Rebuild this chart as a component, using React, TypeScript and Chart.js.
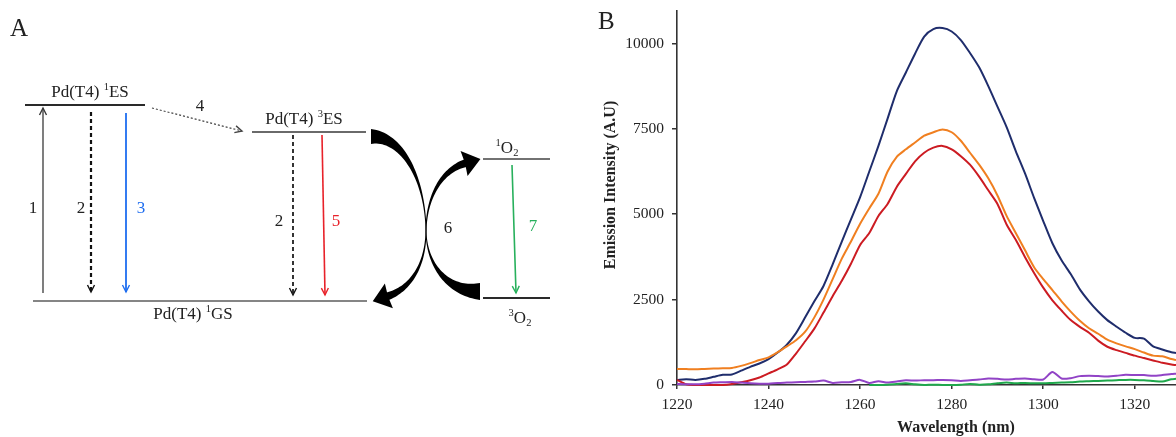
import React, { useEffect, useRef } from "react";
import { Chart, registerables } from "chart.js";

Chart.register(...registerables);

// ---------------- Panel B data (emission spectra) ----------------
const wavelengths = [
  1220, 1222, 1224, 1226, 1228, 1230, 1232, 1234, 1236, 1238,
  1240, 1242, 1244, 1246, 1248, 1250, 1252, 1254, 1256, 1258,
  1260, 1262, 1264, 1266, 1268, 1270, 1272, 1274, 1276, 1278,
  1280, 1282, 1284, 1286, 1288, 1290, 1292, 1294, 1296, 1298,
  1300, 1302, 1304, 1306, 1308, 1310, 1312, 1314, 1316, 1318,
  1320, 1322, 1324, 1326, 1328, 1329,
];
const blueSeries = [
  150, 170, 150, 180, 240, 300, 310, 420, 530, 630,
  760, 950, 1180, 1520, 1980, 2450, 2900, 3530, 4200, 4850,
  5500, 6250, 7000, 7800, 8600, 9150, 9700, 10200, 10420, 10450,
  10350, 10100, 9720, 9300, 8750, 8150, 7550, 6850, 6200, 5480,
  4800, 4150, 3650, 3250, 2800, 2450, 2150, 1900, 1710, 1530,
  1380, 1360, 1130, 1040, 960, 940,
];
const orangeSeries = [
  470, 465, 460, 470, 480, 490, 500, 560, 640, 730,
  810, 960, 1130, 1310, 1560, 1980, 2500, 3100, 3700, 4200,
  4720, 5170, 5600, 6250, 6680, 6900, 7100, 7300, 7400, 7480,
  7400, 7150, 6800, 6450, 6050, 5550, 4950, 4450, 3950, 3450,
  3100, 2780, 2450, 2150, 1880, 1660, 1500, 1330, 1220, 1130,
  1050, 950, 860, 840, 760, 730,
];
const redSeries = [
  150, 20, 0, 0, 0, 0, 30, 80, 140, 220,
  340, 460, 600, 920, 1280, 1650, 2120, 2600, 3050, 3550,
  4100, 4450, 4950, 5300, 5800, 6180, 6550, 6800, 6950, 7000,
  6900, 6700, 6450, 6100, 5700, 5300, 4700, 4250, 3750, 3280,
  2850, 2480, 2180, 1900, 1700, 1530, 1300, 1120, 1020, 940,
  860, 790, 720, 650, 600, 585,
];
const purpleSeries = [
  30, 20, 20, 40, 70, 80, 90, 70, 50, 40,
  40, 60, 70, 80, 90, 100, 130, 60, 80, 90,
  150, 60, 110, 70, 100, 140, 130, 140, 140, 150,
  140, 120, 140, 160, 190, 180, 160, 180, 190, 170,
  160, 380, 190, 200, 260, 270, 260, 250, 270, 300,
  290, 290, 270, 290, 320, 330,
];
const greenSeries: (number | null)[] = [
  null, null, null, null, null, null, null, null, null, null,
  null, null, null, null, null, null, null, null, null, null,
  null, 0, 0, 10, 30, 50, 20, 0, 10, 0,
  0, 10, 30, 10, 20, 50, 70, 50, 60, 50,
  50, 60, 70, 80, 100, 110, 120, 130, 140, 150,
  150, 140, 120, 100, 170, 180,
];
const seriesNames = ["green", "purple", "red", "orange", "blue"];
const seriesValues = [greenSeries, purpleSeries, redSeries, orangeSeries, blueSeries];
const seriesColors = ["#1fa84c", "#9143c6", "#cc1b22", "#f07f20", "#1f2d6c"];

const xTicks = [1220, 1240, 1260, 1280, 1300, 1320];
const yTicks = [0, 2500, 5000, 7500, 10000];
const X_MIN = 1220;
const X_MAX = 1329;
const Y_MIN = 0;
const Y_MAX = 10950;
const xTitle = "Wavelength (nm)";
const yTitle = "Emission Intensity (A.U)";

// ---------------- Panel A data (energy diagram, in diagram units) ----------------
const levelLines = [
  [25, 145, 105],
  [252, 366, 132],
  [33, 367, 301],
  [483, 550, 159],
  [483, 550, 298],
];
const levelColors = ["#2a2a2a", "#6a6a6a", "#858585", "#727272", "#2a2a2a"];

const straightArrows = [
  [43, 293, 43, 108],
  [91, 112, 91, 292],
  [126, 113, 126, 292],
  [152, 108, 242, 131],
  [293, 135, 293, 295],
  [322, 135, 325, 295],
  [512, 165, 516, 293],
];
const arrowColors = ["#3a3a3a", "#111111", "#1f6ef0", "#444444", "#111111", "#e8222a", "#27b05c"];
const arrowDashes = [[], [4, 3], [], [2, 2], [4, 3], [], []];
const arrowWidths = [1.3, 2.2, 1.8, 1.2, 1.7, 1.6, 1.6];

const stepLabels = ["1", "2", "3", "4", "2", "5", "6", "7"];
const stepLabelPos = [
  [33, 207], [81, 207], [141, 207], [200, 105], [279, 220], [336, 220], [448, 227], [533, 225],
];
const stepLabelColors = ["#222", "#222", "#1f6ef0", "#222", "#222", "#e8222a", "#222", "#27b05c"];

type Seg = [string, number];
const stateLabels: Seg[][] = [
  [["Pd(T4) ", 0], ["1", 1], ["ES", 0]],
  [["Pd(T4) ", 0], ["3", 1], ["ES", 0]],
  [["Pd(T4) ", 0], ["1", 1], ["GS", 0]],
  [["1", 1], ["O", 0], ["2", -1]],
  [["3", 1], ["O", 0], ["2", -1]],
];
const stateLabelPos = [[90, 91], [304, 118], [193, 313], [507, 147], [520, 317]];

type Pt = [number, number];
const curvedArrowSegs: Pt[][][] = [
  [
    [[371, 136.5], [402, 136.5], [425, 178], [426, 230]],
    [[426, 230], [426, 266], [410, 289], [387, 296.5]],
  ],
  [
    [[480, 291.5], [448, 291.5], [427, 266], [426, 232]],
    [[426, 232], [426, 198], [441, 170], [466, 163]],
  ],
];
const curvedArrowWidths = [
  [15, 1, 8],
  [17, 1, 8],
];

const SERIF = '"Liberation Serif", "Times New Roman", serif';

function drawRich(ctx: CanvasRenderingContext2D, segs: Seg[], cx: number, cy: number, size: number, color: string) {
  const widths = segs.map(([t, k]) => {
    ctx.font = `${k ? size * 0.62 : size}px ${SERIF}`;
    return ctx.measureText(t).width;
  });
  const total = widths.reduce((a, b) => a + b, 0);
  let x = cx - total / 2;
  const base = cy + size * 0.33;
  ctx.fillStyle = color;
  ctx.textAlign = "left";
  ctx.textBaseline = "alphabetic";
  segs.forEach(([t, k], i) => {
    ctx.font = `${k ? size * 0.62 : size}px ${SERIF}`;
    const dy = k === 1 ? -size * 0.36 : k === -1 ? size * 0.2 : 0;
    ctx.fillText(t, x, base + dy);
    x += widths[i];
  });
}

function bez(p: Pt[], t: number): Pt {
  const u = 1 - t;
  return [
    u * u * u * p[0][0] + 3 * u * u * t * p[1][0] + 3 * u * t * t * p[2][0] + t * t * t * p[3][0],
    u * u * u * p[0][1] + 3 * u * u * t * p[1][1] + 3 * u * t * t * p[2][1] + t * t * t * p[3][1],
  ];
}
function bezD(p: Pt[], t: number): Pt {
  const u = 1 - t;
  return [
    3 * u * u * (p[1][0] - p[0][0]) + 6 * u * t * (p[2][0] - p[1][0]) + 3 * t * t * (p[3][0] - p[2][0]),
    3 * u * u * (p[1][1] - p[0][1]) + 6 * u * t * (p[2][1] - p[1][1]) + 3 * t * t * (p[3][1] - p[2][1]),
  ];
}

const diagramPlugin = {
  id: "diagram",
  afterDatasetsDraw(chart: any) {
    const ctx: CanvasRenderingContext2D = chart.ctx;
    const sx = chart.scales.x;
    const sy = chart.scales.y;
    const X = (v: number) => sx.getPixelForValue(v);
    const Y = (v: number) => sy.getPixelForValue(v);
    ctx.save();

    // arrow heads for straight arrows
    straightArrows.forEach((a, i) => {
      const x1 = X(a[0]), y1 = Y(a[1]), x2 = X(a[2]), y2 = Y(a[3]);
      const len = Math.hypot(x2 - x1, y2 - y1);
      const dx = (x2 - x1) / len, dy = (y2 - y1) / len;
      const nx = -dy, ny = dx;
      const L = 7, H = 3.5;
      ctx.beginPath();
      ctx.setLineDash([]);
      ctx.strokeStyle = arrowColors[i];
      ctx.lineWidth = 1.4;
      ctx.moveTo(x2 - dx * L + nx * H, y2 - dy * L + ny * H);
      ctx.lineTo(x2, y2);
      ctx.lineTo(x2 - dx * L - nx * H, y2 - dy * L - ny * H);
      ctx.stroke();
    });

    // curved thick arrows (step 6)
    curvedArrowSegs.forEach((segs, ai) => {
      const ws = curvedArrowWidths[ai];
      const left: Pt[] = [];
      const right: Pt[] = [];
      segs.forEach((s, si) => {
        const sp: Pt[] = s.map((p) => [X(p[0]), Y(p[1])] as Pt);
        const w0 = ws[si], w1 = ws[si + 1];
        for (let k = 0; k <= 40; k++) {
          const t = k / 40;
          const p = bez(sp, t);
          const d = bezD(sp, t);
          const l = Math.hypot(d[0], d[1]) || 1;
          const nx = -d[1] / l, ny = d[0] / l;
          const w = w0 > w1 ? w1 + (w0 - w1) * Math.pow(1 - t, 2) : w0 + (w1 - w0) * Math.pow(t, 1.6);
          left.push([p[0] + (nx * w) / 2, p[1] + (ny * w) / 2]);
          right.push([p[0] - (nx * w) / 2, p[1] - (ny * w) / 2]);
        }
      });
      ctx.fillStyle = "#000";
      ctx.beginPath();
      left.forEach((p, k) => (k ? ctx.lineTo(p[0], p[1]) : ctx.moveTo(p[0], p[1])));
      for (let k = right.length - 1; k >= 0; k--) ctx.lineTo(right[k][0], right[k][1]);
      ctx.closePath();
      ctx.fill();
      // head
      const last = segs[segs.length - 1].map((p) => [X(p[0]), Y(p[1])] as Pt);
      const end = last[3];
      const d = bezD(last, 1);
      const l = Math.hypot(d[0], d[1]);
      const dx = d[0] / l, dy = d[1] / l;
      const nx = -dy, ny = dx;
      const L = 15, H = 13;
      ctx.beginPath();
      ctx.moveTo(end[0] + nx * H - dx * 2, end[1] + ny * H - dy * 2);
      ctx.lineTo(end[0] + dx * L, end[1] + dy * L);
      ctx.lineTo(end[0] - nx * H - dx * 2, end[1] - ny * H - dy * 2);
      ctx.lineTo(end[0] - dx * 1, end[1] - dy * 1);
      ctx.closePath();
      ctx.fill();
    });

    // step numbers
    stepLabels.forEach((t, i) => {
      drawRich(ctx, [[t, 0]], X(stepLabelPos[i][0]), Y(stepLabelPos[i][1]), 17, stepLabelColors[i]);
    });

    // state labels
    stateLabels.forEach((segs, i) => {
      drawRich(ctx, segs, X(stateLabelPos[i][0]), Y(stateLabelPos[i][1]), 17, "#222");
    });

    // panel letter
    ctx.font = `25px ${SERIF}`;
    ctx.fillStyle = "#222";
    ctx.textAlign = "left";
    ctx.textBaseline = "alphabetic";
    ctx.fillText("A", 10, 36);
    ctx.restore();
  },
};

const spectrumTitlesPlugin = {
  id: "spectrumTitles",
  afterDraw(chart: any) {
    const ctx: CanvasRenderingContext2D = chart.ctx;
    const area = chart.chartArea;
    ctx.save();
    ctx.fillStyle = "#222";
    ctx.font = `bold 16px ${SERIF}`;
    ctx.textAlign = "center";
    ctx.textBaseline = "middle";
    ctx.fillText(xTitle, area.left + 279, area.bottom + 43);
    ctx.translate(area.left - 66, area.top + 174);
    ctx.rotate(-Math.PI / 2);
    ctx.fillText(yTitle, 0, 0);
    ctx.restore();
    ctx.save();
    ctx.font = `25px ${SERIF}`;
    ctx.fillStyle = "#222";
    ctx.textAlign = "left";
    ctx.textBaseline = "alphabetic";
    ctx.fillText("B", 8, 29);
    ctx.restore();
  },
};

export default function App() {
  const diagramRef = useRef<HTMLCanvasElement>(null);
  const spectrumRef = useRef<HTMLCanvasElement>(null);

  useEffect(() => {
    const levelDatasets = levelLines.map((l, i) => ({
      label: `level${i}`,
      data: [{ x: l[0], y: l[2] }, { x: l[1], y: l[2] }],
      borderColor: levelColors[i],
      borderWidth: 2,
      pointRadius: 0,
      tension: 0,
    }));
    const arrowDatasets = straightArrows.map((a, i) => ({
      label: `arrow${i}`,
      data: [{ x: a[0], y: a[1] }, { x: a[2], y: a[3] }],
      borderColor: arrowColors[i],
      borderWidth: arrowWidths[i],
      borderDash: arrowDashes[i],
      pointRadius: 0,
      tension: 0,
    }));

    const diagram = new Chart(diagramRef.current!, {
      type: "line",
      data: { datasets: [...levelDatasets, ...arrowDatasets] as any },
      options: {
        animation: false,
        responsive: false,
        events: [],
        layout: { padding: 0 },
        plugins: { legend: { display: false }, tooltip: { enabled: false } },
        scales: {
          x: { type: "linear", min: 0, max: 590, display: false },
          y: { type: "linear", min: 0, max: 437, reverse: true, display: false },
        },
      },
      plugins: [diagramPlugin],
    });

    const spectrum = new Chart(spectrumRef.current!, {
      type: "line",
      data: {
        datasets: seriesValues.map((vals, i) => ({
          label: seriesNames[i],
          data: wavelengths.map((w, k) => ({ x: w, y: vals[k] })),
          borderColor: seriesColors[i],
          borderWidth: 2,
          pointRadius: 0,
          tension: 0.25,
          spanGaps: false,
          clip: false,
        })) as any,
      },
      options: {
        animation: false,
        responsive: false,
        events: [],
        layout: { padding: { top: 11, left: 0, right: 0, bottom: 0 } },
        plugins: { legend: { display: false }, tooltip: { enabled: false } },
        scales: {
          x: {
            type: "linear",
            min: X_MIN,
            max: X_MAX,
            afterBuildTicks: (s: any) => {
              s.ticks = xTicks.map((v) => ({ value: v }));
            },
            afterFit: (s: any) => {
              s.height = 52;
              s.paddingLeft = 0;
              s.paddingRight = 0;
            },
            grid: { display: true, drawOnChartArea: false, drawTicks: true, tickLength: 4, color: "#333", lineWidth: 1.5 },
            border: { display: true, color: "#333", width: 1.6 },
            ticks: {
              font: { family: SERIF, size: 15.5 },
              color: "#222",
              padding: 7,
              maxRotation: 0,
              autoSkip: false,
              callback: (v: any) => String(v),
            },
          },
          y: {
            type: "linear",
            min: Y_MIN,
            max: Y_MAX,
            afterBuildTicks: (s: any) => {
              s.ticks = yTicks.map((v) => ({ value: v }));
            },
            afterFit: (s: any) => {
              s.width = 87;
              s.paddingTop = 0;
              s.paddingBottom = 0;
            },
            grid: { display: true, drawOnChartArea: false, drawTicks: true, tickLength: 5, color: "#333", lineWidth: 1.5 },
            border: { display: true, color: "#333", width: 1.6 },
            ticks: {
              font: { family: SERIF, size: 15.5 },
              color: "#222",
              padding: 8,
              autoSkip: false,
              callback: (v: any) => String(v),
            },
          },
        },
      },
      plugins: [spectrumTitlesPlugin],
    });

    return () => {
      diagram.destroy();
      spectrum.destroy();
    };
  }, []);

  return (
    <div style={{ position: "absolute", left: 0, top: 0, width: 1176, height: 437, background: "#fff" }}>
      <canvas ref={diagramRef} width={590} height={437} style={{ position: "absolute", left: 0, top: 0 }} />
      <canvas ref={spectrumRef} width={586} height={437} style={{ position: "absolute", left: 590, top: 0 }} />
    </div>
  );
}
